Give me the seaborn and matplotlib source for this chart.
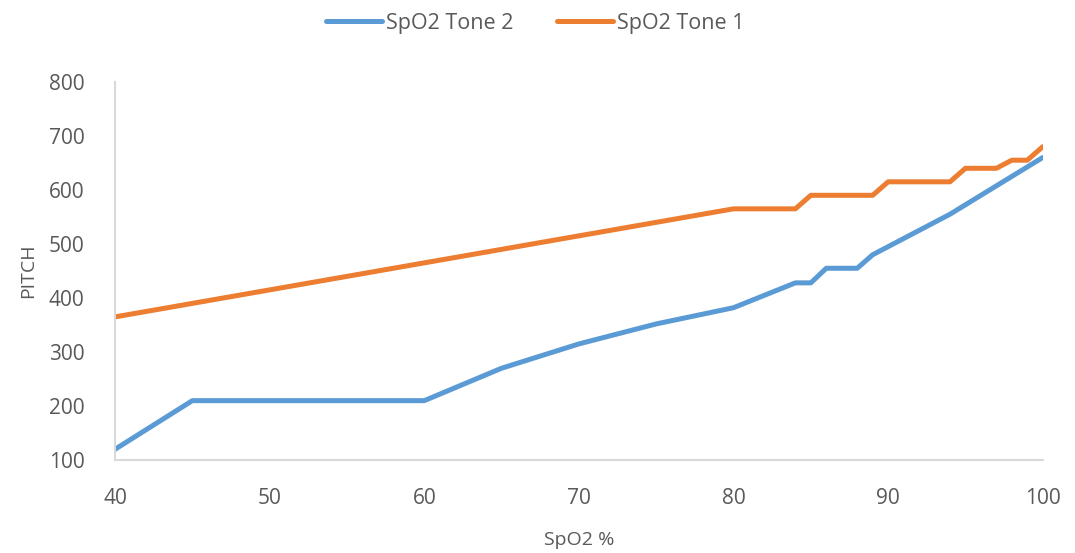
import matplotlib
matplotlib.use("Agg")
import matplotlib.pyplot as plt
import seaborn as sns
import pandas as pd

tone2_x = [40, 45, 60, 65, 70, 75, 80, 84, 85, 86, 88, 89, 90, 92, 94, 96, 98, 100]
tone2_y = [120, 210, 210, 270, 315, 352, 382, 428, 428, 455, 455, 480, 495, 525, 555, 590, 625, 660]
tone1_x = [40, 80, 84, 85, 89, 90, 94, 95, 97, 98, 99, 100]
tone1_y = [365, 565, 565, 590, 590, 615, 615, 640, 640, 655, 655, 680]
series_names = ["SpO2 Tone 2", "SpO2 Tone 1"]
colors = ["#5B9BD5", "#ED7D31"]
x_ticks = [40, 50, 60, 70, 80, 90, 100]
y_ticks = [100, 200, 300, 400, 500, 600, 700, 800]

df = pd.concat([
    pd.DataFrame({"x": tone2_x, "y": tone2_y, "series": series_names[0]}),
    pd.DataFrame({"x": tone1_x, "y": tone1_y, "series": series_names[1]}),
], ignore_index=True)

sns.set_theme(style="white")
plt.rcParams["font.family"] = ["Open Sans", "DejaVu Sans"]
text_color = "#595959"

fig = plt.figure(figsize=(10.75, 5.53), dpi=100)
ax = fig.add_axes([0.107, 0.168, 0.863, 0.684])
sns.lineplot(data=df, x="x", y="y", hue="series", hue_order=series_names,
             palette=colors, linewidth=3.6, sort=True, estimator=None, ax=ax)

ax.set_xlim(40, 100)
ax.set_ylim(100, 800)
ax.set_xticks(x_ticks)
ax.set_yticks(y_ticks)
ax.tick_params(axis="both", colors=text_color, labelsize=15, length=0)
ax.tick_params(axis="x", pad=20)
ax.tick_params(axis="y", pad=22)
for s in ["top", "right"]:
    ax.spines[s].set_visible(False)
for s in ["left", "bottom"]:
    ax.spines[s].set_color("#D9D9D9")
    ax.spines[s].set_linewidth(1.5)
ax.set_xlabel("SpO2 %", color=text_color, fontsize=14, labelpad=16)
ax.set_ylabel("PITCH", color=text_color, fontsize=14, labelpad=8)

ax.get_legend().remove()
handles, labels = ax.get_legend_handles_labels()
leg = fig.legend(handles, labels, loc="center", bbox_to_anchor=(0.498, 0.958), ncol=2, frameon=False,
                 fontsize=15.5, handlelength=2.6, handletextpad=0.2, columnspacing=2.0)
for t in leg.get_texts():
    t.set_color(text_color)
for h in leg.get_lines():
    h.set_linewidth(3.6)

fig.savefig("out.png", dpi=100)
